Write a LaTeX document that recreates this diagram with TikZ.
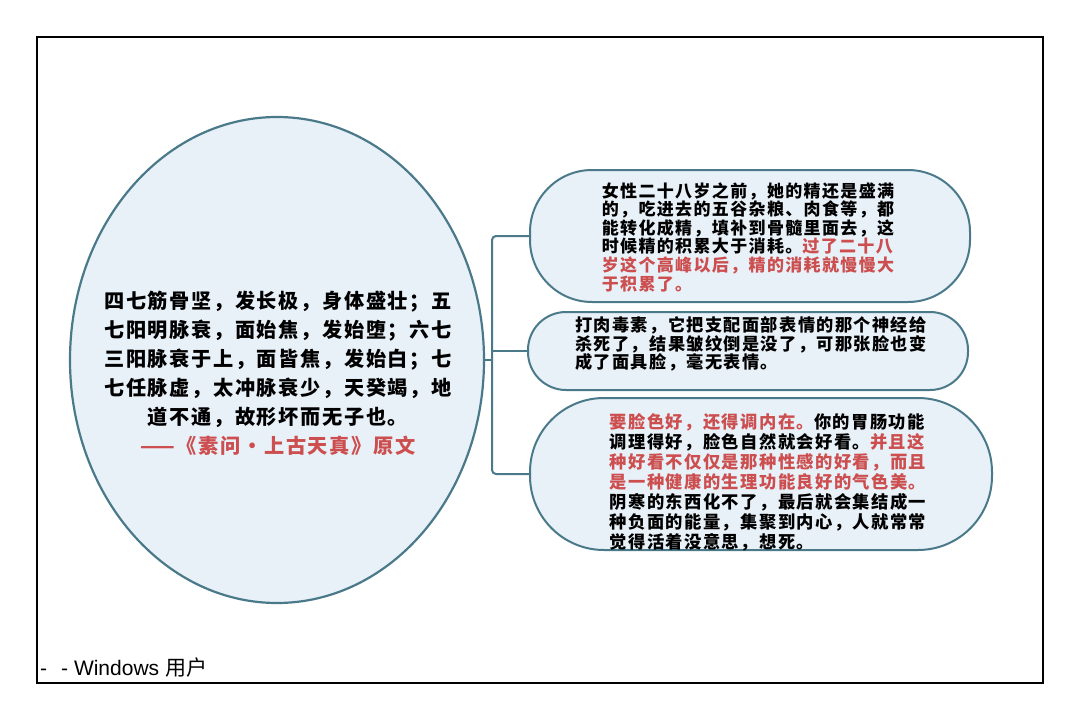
\documentclass[tikz,border=0pt]{standalone}
\usepackage{fontspec}
\setmainfont{Liberation Sans}
\newfontfamily\cjk{Noto Sans CJK SC}[LetterSpace=8]
\newfontfamily\cjkfoot{Noto Sans CJK SC}
\usetikzlibrary{shapes.geometric}
\definecolor{xianse}{RGB}{74,122,138}
\definecolor{tianse}{RGB}{232,240,248}
\definecolor{hongse}{RGB}{204,78,78}
\newcommand{\hong}[1]{\textcolor{hongse}{#1}}
\tikzset{
  tuoyuan/.style={ellipse, draw=xianse, fill=tianse, line width=2.2pt,
    minimum width=414pt, minimum height=486pt, inner sep=0pt},
  kuang/.style={rectangle, draw=xianse, fill=tianse, line width=2pt, inner sep=0pt},
  wenzi/.style={align=left, inner sep=0pt},
  lianxian/.style={draw=xianse, line width=2pt, rounded corners=4pt},
}

\begin{document}
\begin{tikzpicture}[x=1pt, y=-1pt]
        \useasboundingbox (0,0) rectangle (1080,720);
        % frame
        \draw[line width=2pt] (37,37) rectangle (1043,683);
        % left
        \node[tuoyuan] (yuanwen) at (277,360) {};
        \node[wenzi, align=center, font=\cjk\bfseries\fontsize{20.2}{29}\selectfont] (wen0) at (278,373)
          {四七筋骨坚，发长极，身体盛壮；五\\
           七阳明脉衰，面始焦，发始堕；六七\\
           三阳脉衰于上，面皆焦，发始白；七\\
           七任脉虚，太冲脉衰少，天癸竭，地\\
           道不通，故形坏而无子也。\\
           \hong{——《素问·上古天真》原文}};
        % right
        \node[kuang, minimum width=440pt, minimum height=132pt, rounded corners=62pt] (kuang1) at (750,236) {};
        \node[kuang, minimum width=440pt, minimum height=78pt, rounded corners=38pt] (kuang2) at (748,351) {};
        \node[kuang, minimum width=462pt, minimum height=152pt, rounded corners=74pt] (kuang3) at (761,474) {};
        \node[wenzi, font=\cjk\bfseries\fontsize{17}{18.6}\selectfont] (wen1) at (748,237)
          {女性二十八岁之前，她的精还是盛满\\
           的，吃进去的五谷杂粮、肉食等，都\\
           能转化成精，填补到骨髓里面去，这\\
           时候精的积累大于消耗。\hong{过了二十八}\\
           \hong{岁这个高峰以后，精的消耗就慢慢大}\\
           \hong{于积累了。}};
        \node[wenzi, font=\cjk\bfseries\fontsize{17.2}{18.8}\selectfont] (wen2) at (751,344)
          {打肉毒素，它把支配面部表情的那个神经给\\
           杀死了，结果皱纹倒是没了，可那张脸也变\\
           成了面具脸，毫无表情。};
        \node[wenzi, font=\cjk\bfseries\fontsize{17.3}{20}\selectfont] (wen3) at (768,482)
          {\hong{要脸色好，还得调内在。}你的胃肠功能\\
           调理得好，脸色自然就会好看。\hong{并且这}\\
           \hong{种好看不仅仅是那种性感的好看，而且}\\
           \hong{是一种健康的生理功能良好的气色美。}\\
           阴寒的东西化不了，最后就会集结成一\\
           种负面的能量，集聚到内心，人就常常\\
           觉得活着没意思，想死。};
        % connectors
        \coordinate (zhu) at (492,360);
        \draw[lianxian] (yuanwen.east) -- (zhu);
        \draw[lianxian] (zhu) |- (kuang1.west);
        \draw[lianxian] (zhu) |- (kuang3.west);
        \draw[lianxian] (zhu |- kuang2.west) -- (kuang2.west);
        % footer
        \node[anchor=base west, inner sep=0pt, font=\fontsize{21}{25}\selectfont] (jiaozhu) at (40,675)
          {-\hspace{14pt}- Windows {\cjkfoot 用户}};
    \end{tikzpicture}
\end{document}
